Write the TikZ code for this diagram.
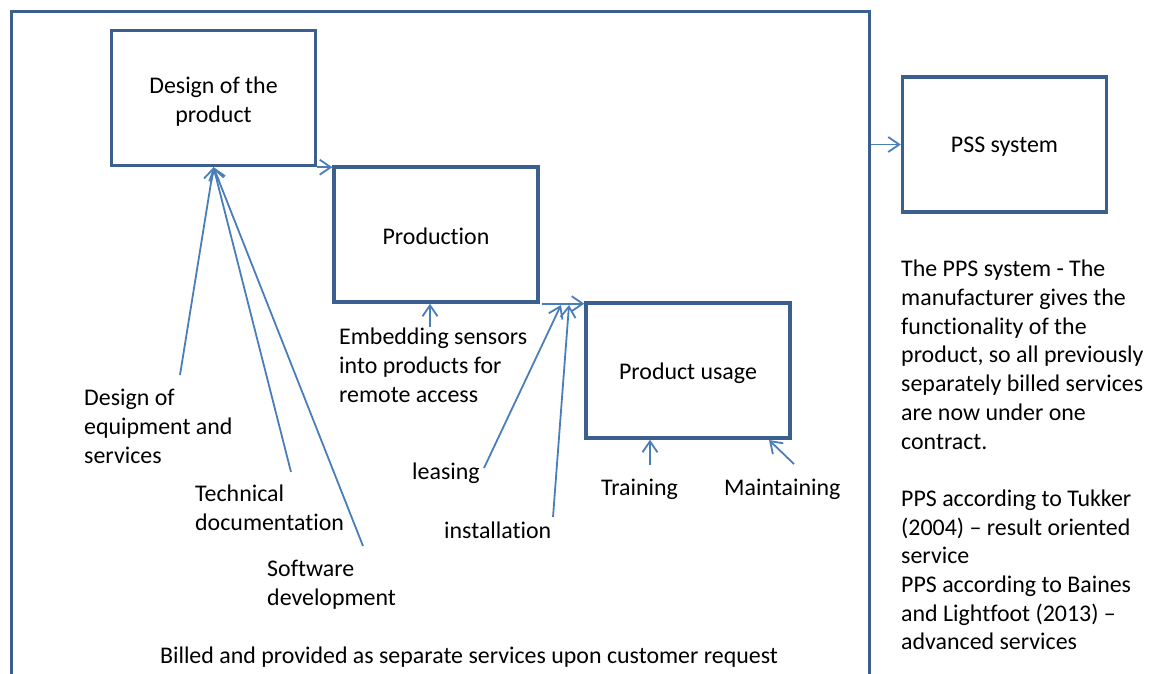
\documentclass[tikz,border=0pt]{standalone}
\usepackage{fontspec}
\setmainfont{Carlito}[Ligatures=NoCommon]
\usetikzlibrary{arrows.meta}
\definecolor{boxblue}{HTML}{3B5F8E}
\definecolor{linkblue}{HTML}{4A7EBB}
\tikzset{
  stage/.style={draw=boxblue, line width=3.4pt, minimum width=204pt, minimum height=135pt,
                inner sep=0pt},
  caption/.style={align=center, inner sep=0pt},
  label/.style={align=left, inner sep=0pt, anchor=north west},
  link/.style={draw=linkblue, line width=1.8pt,
               -{Straight Barb[length=11pt,width=15pt,line width=1.8pt]}},
}
\begin{document}
\begin{tikzpicture}[x=1pt,y=-1pt,font=\fontsize{23.9}{28.7}\selectfont]
\useasboundingbox (0,0) rectangle (1149,673);

% enclosing frame of separately billed services (open at the bottom)
\node[draw=boxblue, line width=3.4pt, minimum width=858pt, minimum height=720pt,
      anchor=north west, inner sep=0pt] (frame) at (10,10) {};

% stages of the product life
\node[stage] (design) at (213.5,98) {};
\node[stage] (prod)   at (436,234.5) {};
\node[stage] (usage)  at (688,370.5) {};
\node[stage] (pss)    at (1004.5,144.5) {};
\node[caption] (designtext) at (213.5,101.5) {Design of the\\product};
\node[caption] (prodtext)   at (436,236) {Production};
\node[caption] (usagetext)  at (688,373.5) {Product usage};
\node[caption] (psstext)    at (1004.5,146.5) {PSS system};

% service labels
\node[label] (equip) at (84,389) {Design of\\equipment and\\services};
\node[label] (tech)  at (195,485) {Technical\\documentation};
\node[label] (soft)  at (267,560) {Software\\development};
\node[label] (embed) at (339,328) {Embedding sensors\\into products for\\remote access};
\node[label] (lease) at (412,463) {leasing};
\node[label] (inst)  at (444,522) {installation};
\node[label] (train) at (601,479) {Training};
\node[label] (maint) at (724,479) {Maintaining};
\node[anchor=center, inner sep=0pt] (billed) at (469,657)
  {Billed and provided as separate services upon customer request};

% description of the PSS
\node[label] (desc) at (901,260)
  {The PPS system - The\\manufacturer gives the\\functionality of the\\product, so all previously\\separately billed services\\are now under one\\contract.\\[28.7pt]
   PPS according to Tukker\\(2004) -- result oriented\\service\\PPS according to Baines\\and Lightfoot (2013) --\\advanced services};

% tails of the service arrows
\coordinate (tEquip) at (180,375);
\coordinate (tTech)  at (291,472);
\coordinate (tSoft)  at (363,546);
\coordinate (tEmbed) at (430,327);
\coordinate (tLease) at (484,468);
\coordinate (tInst)  at (553,517);
\coordinate (tTrain) at (650,465);
\coordinate (tMaint) at (794,464);
\coordinate (hLease) at (561,305);
\coordinate (hInst)  at (569,305);

% flow between stages
\draw[link] (design.south east) -- (design.south east -| prod.west);
\draw[link] ([xshift=2pt]prod.south east) -- (prod.south east -| usage.west);
\draw[link] (frame.east |- pss.west) -- (pss.west);

% services feeding the stages
\draw[link] (tEquip) -- (design.south);
\draw[link] (tTech)  -- (design.south);
\draw[link] (tSoft)  -- (design.south);
\draw[link] (tEmbed) -- (tEmbed |- prod.south);
\draw[link] (tLease) -- (hLease);
\draw[link] (tInst)  -- (hInst);
\draw[link] (tTrain) -- (tTrain |- usage.south);
\draw[link] (tMaint) -- (769,440);
\end{tikzpicture}
\end{document}
